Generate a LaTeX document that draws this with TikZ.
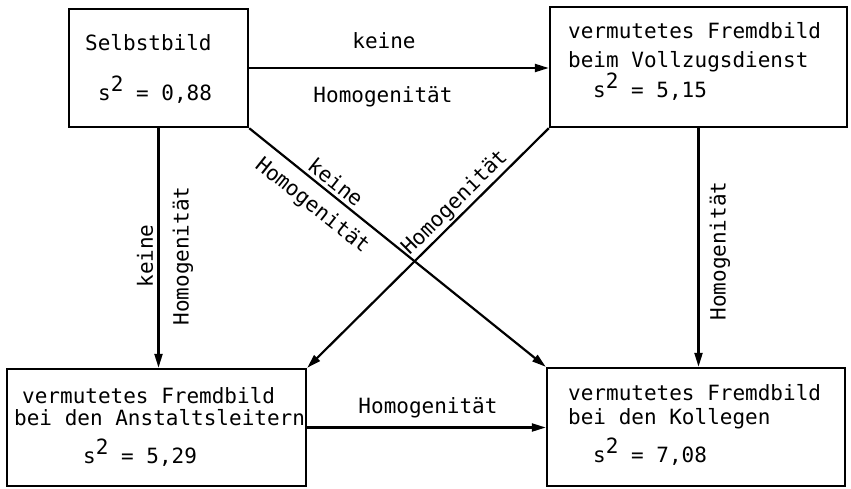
\documentclass[tikz,border=0pt]{standalone}
\usepackage{fontspec}
\usetikzlibrary{arrows.meta}
\newfontfamily\typfont{DejaVu Sans Mono}
\newcommand\sqr{s\raisebox{9pt}{2}}
\tikzset{
  box/.style={draw, line width=2.4pt, rectangle, inner sep=0pt},
  txt/.style={font=\typfont\fontsize{21}{23}\selectfont, inner sep=0pt},
  conn/.style={line width=2.2pt, -{Triangle[length=14pt,width=8pt]}},
}
\begin{document}
\begin{tikzpicture}[x=1pt,y=-1pt]
\useasboundingbox (0,0) rectangle (851,488);

% boxes
\node[box, minimum width=179pt, minimum height=118pt] (A) at (158.5,68) {};
\node[box, minimum width=297pt, minimum height=120pt] (B) at (698.5,67) {};
\node[box, minimum width=299pt, minimum height=117pt] (C) at (156.5,427.5) {};
\node[box, minimum width=298pt, minimum height=118pt] (D) at (696,427) {};

% box texts
\node[txt, anchor=base west] (a1) at (85,50) {Selbstbild};
\node[txt, anchor=base west] (a2) at (98,100) {\sqr{} = 0,88};
\node[txt, anchor=base west] (b1) at (568,38) {vermutetes Fremdbild};
\node[txt, anchor=base west] (b2) at (568,67) {beim Vollzugsdienst};
\node[txt, anchor=base west] (b3) at (593,97) {\sqr{} = 5,15};
\node[txt, anchor=base west] (c1) at (22,403) {vermutetes Fremdbild};
\node[txt, anchor=base west] (c2) at (14,425) {bei den Anstaltsleitern};
\node[txt, anchor=base west] (c3) at (83,463) {\sqr{} = 5,29};
\node[txt, anchor=base west] (d1) at (568,400) {vermutetes Fremdbild};
\node[txt, anchor=base west] (d2) at (568,424) {bei den Kollegen};
\node[txt, anchor=base west] (d3) at (593,462) {\sqr{} = 7,08};

% connectors
\draw[conn] (A.east) -- (A.east -| B.west);
\draw[conn] (A.south) -- (A.south |- C.north);
\draw[conn] (B.south) -- (B.south |- D.north);
\draw[conn] (A.south east) -- (D.north west);
\draw[conn] (B.south west) -- (C.north east);
\draw[conn] (C.east) -- (C.east -| D.west);

% connector labels
\node[txt, anchor=base] (l1) at (384,48) {keine};
\node[txt, anchor=base] (l2) at (383,102) {Homogenität};
\node[txt, rotate=90] (l3) at (145,256) {keine};
\node[txt, rotate=90] (l4) at (183,256) {Homogenität};
\node[txt, rotate=90] (l5) at (720,251) {Homogenität};
\node[txt, rotate=-38.5] (l6) at (336,182) {keine};
\node[txt, rotate=-38.5] (l7) at (312,206) {Homogenität};
\node[txt, rotate=44.7] (l8) at (455,203) {Homogenität};
\node[txt, anchor=base] (l9) at (428,413) {Homogenität};
\end{tikzpicture}
\end{document}
